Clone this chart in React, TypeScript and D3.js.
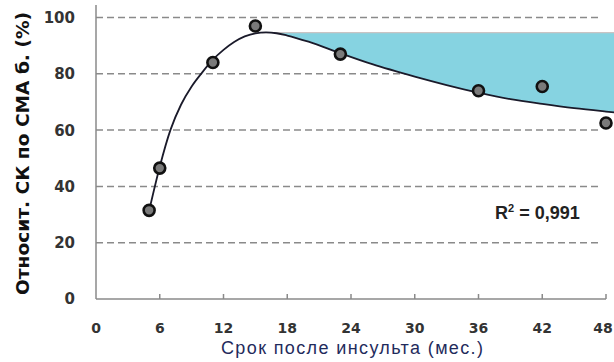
import { useEffect, useRef } from "react";
import * as d3 from "d3";

// measured points: months after stroke, relative CR by MCA (%)
const months = [5, 6, 11, 15, 23, 36, 42, 48];
const values = [31.5, 46.5, 84, 97, 87, 74, 75.5, 62.5];

// fitted trend line
const fitMonths = [5.1, 6, 7, 8, 9, 10, 11, 12, 13, 14, 15, 16, 17, 18, 20, 23, 26, 30, 33, 36, 39, 42, 45, 48, 48.8];
const fitValues = [33, 47, 60, 69, 75.5, 80.5, 85, 88.5, 91.3, 93.3, 94.4, 94.7, 94.4, 93.6, 91.4, 87.3, 83.4, 79, 76, 73.3, 71, 69.3, 67.8, 66.6, 66.3];

const plateau = 94.6;
const xTicks = [0, 6, 12, 18, 24, 30, 36, 42, 48];
const yTicks = [0, 20, 40, 60, 80, 100];

export default function App() {
  const ref = useRef<SVGSVGElement>(null);
  const width = 614;
  const height = 362;

  useEffect(() => {
    const svg = d3.select(ref.current);
    svg.selectAll("*").remove();

    const x = d3.scaleLinear().domain([0, 48]).range([96, 606]);
    const y = d3.scaleLinear().domain([0, 100]).range([299, 17.5]);

    const fit = fitMonths.map((m, i) => ({ m, v: fitValues[i] }));

    // grid
    svg
      .append("g")
      .selectAll("line")
      .data(yTicks.filter((t) => t > 0))
      .join("line")
      .attr("x1", x(0))
      .attr("x2", 602)
      .attr("y1", (d) => y(d))
      .attr("y2", (d) => y(d))
      .attr("stroke", "#8a8a8a")
      .attr("stroke-width", 1.5)
      .attr("stroke-dasharray", "7,4");

    // shaded gap between plateau and trend
    const shaded = fit.filter((d) => d.m >= 15.6);
    const area = d3
      .area<{ m: number; v: number }>()
      .x((d) => x(d.m))
      .y0(y(plateau))
      .y1((d) => y(d.v))
      .curve(d3.curveMonotoneX);
    svg.append("path").attr("d", area(shaded)).attr("fill", "#86d3e1");
    svg
      .append("line")
      .attr("x1", x(15.6))
      .attr("x2", width)
      .attr("y1", y(plateau))
      .attr("y2", y(plateau))
      .attr("stroke", "#c9c4c4")
      .attr("stroke-width", 1.2);

    // axes
    svg
      .append("line")
      .attr("x1", x(0))
      .attr("x2", x(0))
      .attr("y1", 5)
      .attr("y2", y(0))
      .attr("stroke", "#8a8a8a")
      .attr("stroke-width", 1.5);
    svg
      .append("line")
      .attr("x1", x(0))
      .attr("x2", x(48))
      .attr("y1", y(0))
      .attr("y2", y(0))
      .attr("stroke", "#8a8a8a")
      .attr("stroke-width", 1.5);
    svg
      .append("g")
      .selectAll("line")
      .data(xTicks.filter((t) => t > 0))
      .join("line")
      .attr("x1", (d) => x(d))
      .attr("x2", (d) => x(d))
      .attr("y1", y(0))
      .attr("y2", y(0) - 5)
      .attr("stroke", "#8a8a8a")
      .attr("stroke-width", 1.5);

    // tick labels
    svg
      .append("g")
      .selectAll("text")
      .data(yTicks)
      .join("text")
      .attr("x", 75)
      .attr("y", (d) => y(d))
      .attr("dy", "0.36em")
      .attr("text-anchor", "end")
      .attr("font-family", "DejaVu Sans")
      .attr("font-weight", "bold")
      .attr("font-size", 15)
      .attr("fill", "#333")
      .text((d) => d);
    svg
      .append("g")
      .selectAll("text")
      .data(xTicks)
      .join("text")
      .attr("x", (d) => Math.min(x(d), width - 11))
      .attr("y", 328)
      .attr("dy", "0.36em")
      .attr("text-anchor", "middle")
      .attr("font-family", "DejaVu Sans")
      .attr("font-weight", "bold")
      .attr("font-size", 14)
      .attr("fill", "#333")
      .text((d) => d);

    // trend line
    const line = d3
      .line<{ m: number; v: number }>()
      .x((d) => x(d.m))
      .y((d) => y(d.v))
      .curve(d3.curveMonotoneX);
    svg
      .append("path")
      .attr("d", line(fit))
      .attr("fill", "none")
      .attr("stroke", "#1a1a2a")
      .attr("stroke-width", 1.8);

    // points
    svg
      .append("g")
      .selectAll("circle")
      .data(months.map((m, i) => ({ m, v: values[i] })))
      .join("circle")
      .attr("cx", (d) => x(d.m))
      .attr("cy", (d) => y(d.v))
      .attr("r", 5.5)
      .attr("fill", "#7a7a7a")
      .attr("stroke", "#111")
      .attr("stroke-width", 2.6);

    // R²
    const r2 = svg
      .append("text")
      .attr("x", 495)
      .attr("y", 219)
      .attr("font-family", "Liberation Sans")
      .attr("font-weight", "bold")
      .attr("font-size", 18)
      .attr("fill", "#222");
    r2.append("tspan").text("R");
    r2.append("tspan").attr("font-size", 11).attr("dy", -7).text("2");
    r2.append("tspan").attr("dy", 7).text(" = 0,991");

    // axis titles
    svg
      .append("text")
      .attr("x", 221)
      .attr("y", 348)
      .attr("dy", "0.36em")
      .attr("textLength", 262)
      .attr("lengthAdjust", "spacing")
      .attr("font-family", "Liberation Sans")
      .attr("font-size", 18)
      .attr("fill", "#1f2b5c")
      .text("Срок после инсульта (мес.)");
    svg
      .append("text")
      .attr("transform", `translate(23,295) rotate(-90)`)
      .attr("dy", "0.36em")
      .attr("textLength", 283)
      .attr("lengthAdjust", "spacingAndGlyphs")
      .attr("font-family", "DejaVu Sans")
      .attr("font-weight", "bold")
      .attr("font-size", 17)
      .attr("fill", "#111")
      .text("Относит. СК по СМА б. (%)");
  }, []);

  return (
    <svg
      ref={ref}
      width={width}
      height={height}
      style={{ position: "absolute", left: 0, top: 0, background: "#fff" }}
    />
  );
}
